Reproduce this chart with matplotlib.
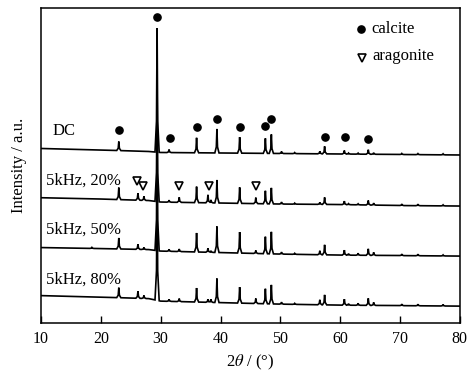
import numpy as np
import matplotlib
matplotlib.use("Agg")
import matplotlib.pyplot as plt

plt.rcParams['font.family'] = ['Liberation Serif', 'DejaVu Serif']
plt.rcParams['mathtext.fontset'] = 'stix'

# ---- data ----
peak_pos = [18.5, 23.0, 26.2, 27.2, 29.4, 31.4, 33.1, 36.0, 37.9, 38.4, 39.4, 43.2,
            45.9, 47.5, 48.5, 50.2, 52.4, 56.6, 57.4, 60.7, 61.4, 63.0, 64.7,
            65.6, 70.3, 73.0, 77.2]

h_dc  = [0.0, 9, 0, 0, 124, 3, 0, 15, 0, 0, 24, 16, 0, 15, 19, 2, 1, 2.5, 7.5,
         3.5, 1, 1, 4.5, 1.5, 1, 1, 1]
h_20  = [0.0, 12, 7, 4, 115, 2, 5, 16, 8, 3, 23, 16, 6, 13, 16, 2, 1, 2, 7,
         3.5, 1, 1, 4.5, 2, 1.5, 1.5, 1]
h_50  = [1.0, 11, 5, 2, 122, 2, 2.5, 19, 4, 1.5, 26, 21, 3, 17, 22, 2, 1, 4, 10,
         5, 1.5, 2, 6.5, 3, 1.5, 1.5, 1]
h_80  = [0.0, 10, 7, 3, 118, 2, 3, 14, 3, 3, 24, 16, 5, 15, 19, 2, 1, 5, 10,
         6, 1.5, 2, 7, 3, 1.5, 1.5, 1.5]

base_x   = [10, 20, 28, 30, 40, 50, 60, 70, 80]
base_dc  = [174.5, 173, 171.5, 170.5, 170, 169.5, 169, 168.5, 168]
base_20  = [125.3, 124, 122.5, 121, 120, 119, 118.5, 117.5, 117]
base_50  = [75.5, 74.5, 73.5, 72, 70.5, 69, 68, 67.5, 67]
base_80  = [27.5, 26, 24.5, 22, 20.5, 19, 18, 17.5, 17]

labels = ['DC', '5kHz, 20%', '5kHz, 50%', '5kHz, 80%']
label_x = [12.0, 10.8, 10.8, 10.8]
label_y = [192.3, 142.3, 93, 43]

calcite_x = [23.0, 29.4, 31.5, 36.0, 39.4, 43.2, 47.5, 48.5, 57.4, 60.8, 64.7]
calcite_y = [193, 306, 185, 196, 204, 196, 197, 204, 186, 186, 184]
arag_x = [26.1, 27.1, 33.1, 38.0, 45.9]
arag_y = [142, 137, 137, 137, 137]

# ---- build traces ----
shape_dx = np.array([-0.35, -0.1, 0.0, 0.1, 0.35])
shape_fy = np.array([0.0, 0.25, 1.0, 0.25, 0.0])

knots = set(base_x)
for p in peak_pos:
    for d in shape_dx:
        knots.add(round(p + d, 4))
xs = np.array(sorted(knots))


def trace(bx, by, heights):
    y = np.interp(xs, bx, by)
    for p, h in zip(peak_pos, heights):
        if h > 0:
            y = y + h * np.interp(xs, p + shape_dx, shape_fy, left=0, right=0)
    return y

fig = plt.figure(figsize=(4.77, 3.74), dpi=100)
ax = fig.add_axes([0.086, 0.136, 0.878, 0.843])

for by, hs in [(base_dc, h_dc), (base_20, h_20), (base_50, h_50), (base_80, h_80)]:
    ax.plot(xs, trace(base_x, by, hs), color='black', lw=1.2, solid_joinstyle='miter')

ax.plot(calcite_x, calcite_y, 'o', color='black', ms=5.2, ls='none')
ax.plot(arag_x, arag_y, 'v', mfc='white', mec='black', mew=1.2, ms=5.5, ls='none')

for t, x, y in zip(labels, label_x, label_y):
    ax.text(x, y, t, fontsize=12, ha='left', va='center')

# legend drawn manually
ax.plot([63.4], [293.7], 'o', color='black', ms=5.2)
ax.text(65.25, 294, 'calcite', fontsize=12, ha='left', va='center')
ax.plot([63.57], [264.7], 'v', mfc='white', mec='black', mew=1.2, ms=5.5)
ax.text(65.45, 267, 'aragonite', fontsize=12, ha='left', va='center')

ax.set_xlim(10, 80)
ax.set_ylim(0, 315)
ax.set_xticks(np.arange(10, 81, 10))
ax.set_yticks([])
ax.tick_params(axis='x', direction='in', length=5, width=1.0, labelsize=11.5, pad=6)
for s in ax.spines.values():
    s.set_linewidth(1.1)
ax.set_xlabel(r'2$\theta$ / (°)', fontsize=12, labelpad=4)
ax.set_ylabel('Intensity / a.u.', fontsize=12, labelpad=10)

fig.savefig('out.png', dpi=100)
